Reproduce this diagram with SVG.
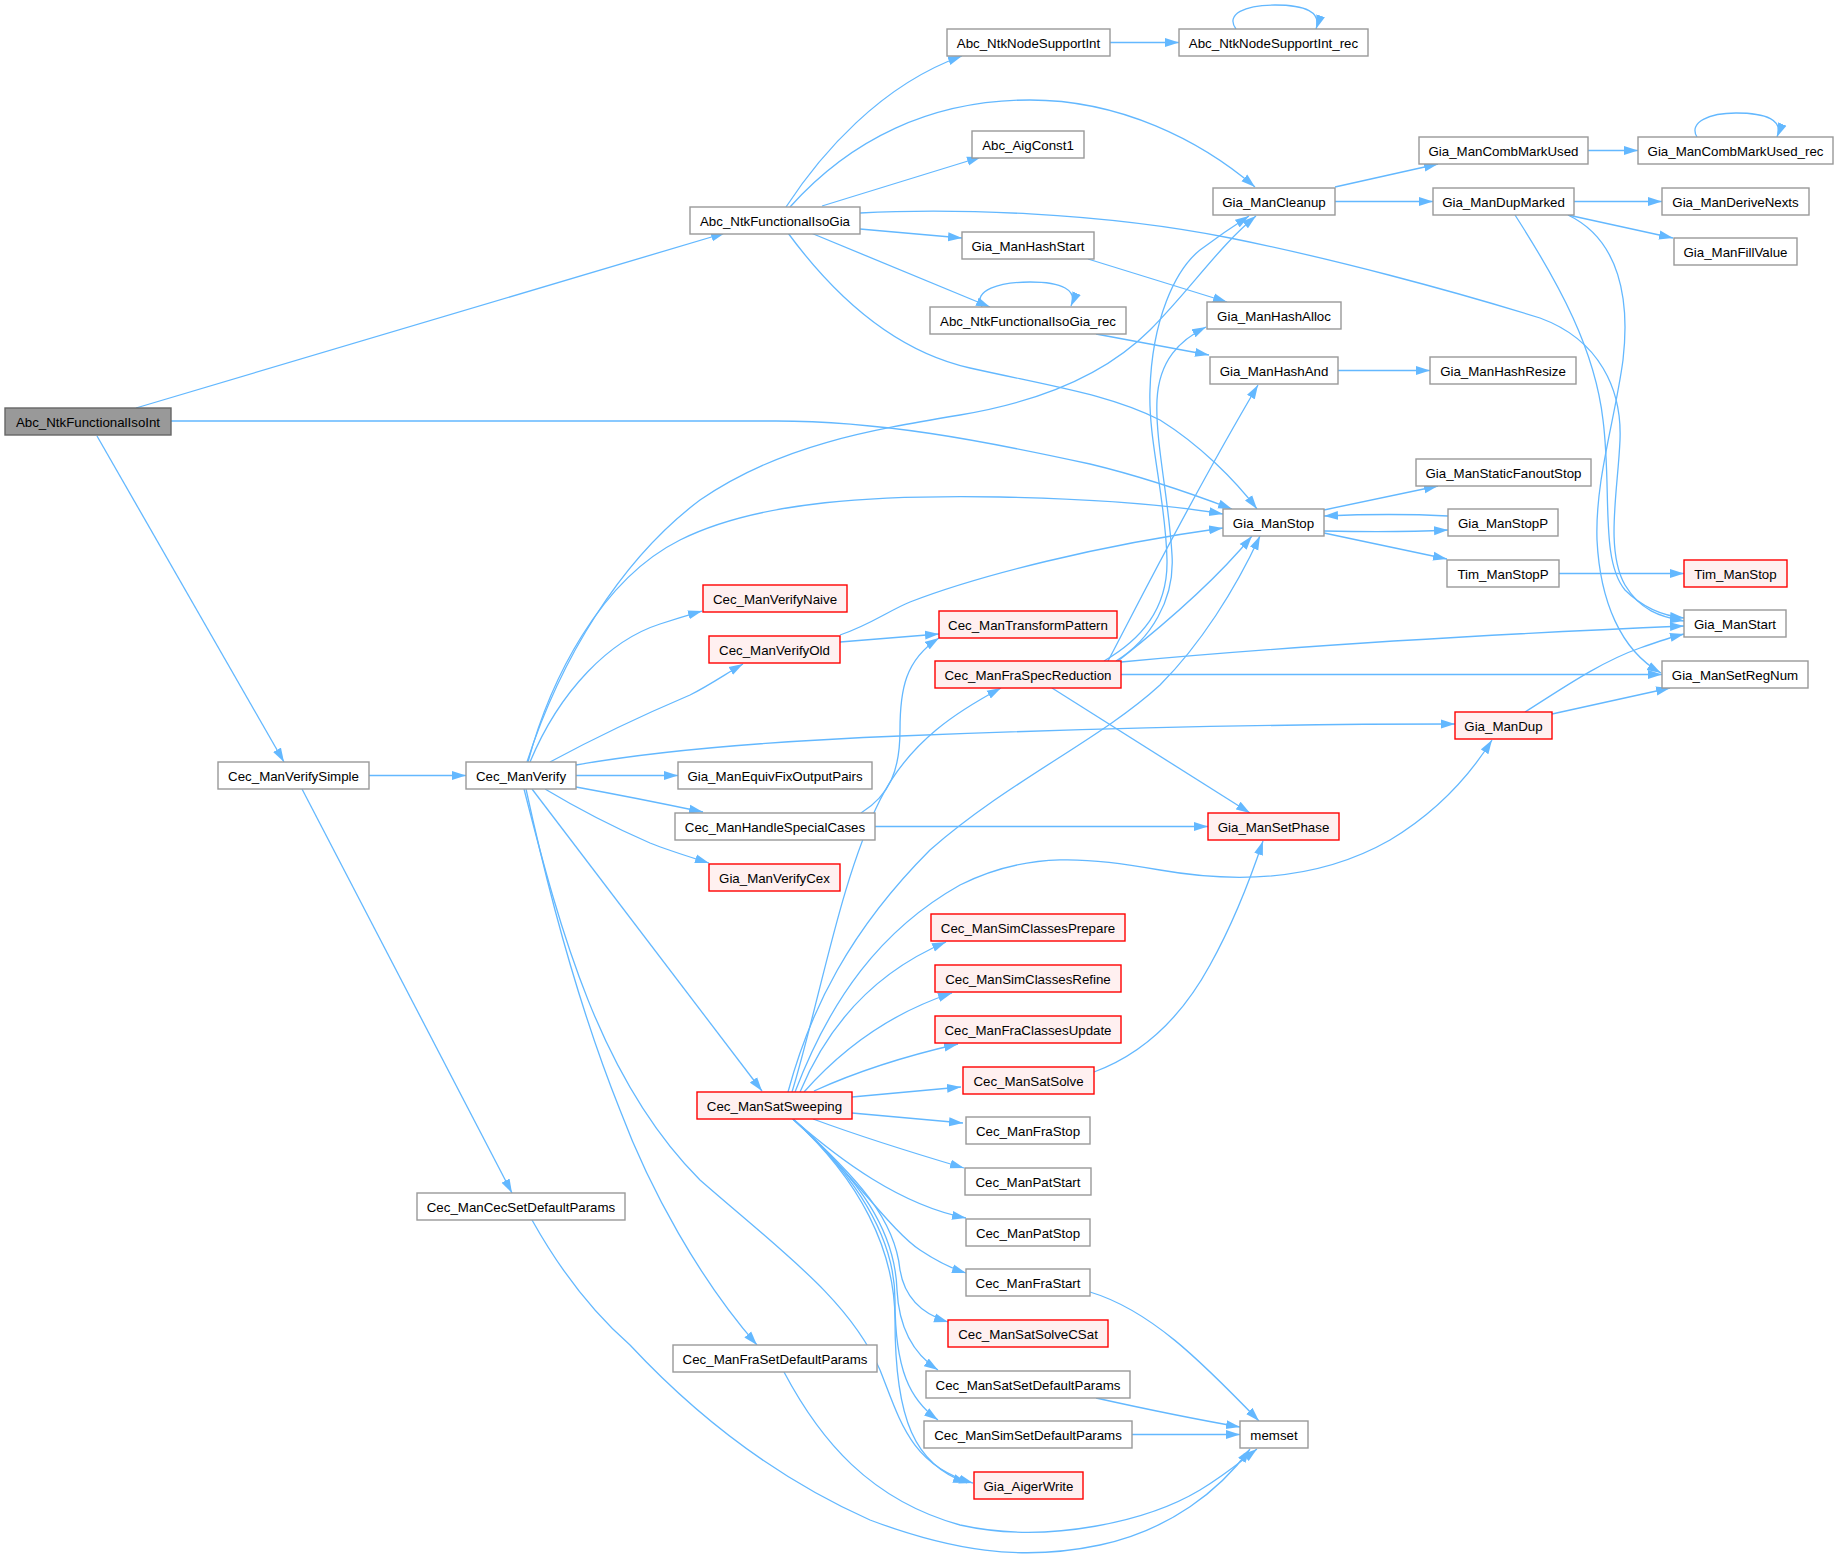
<svg xmlns="http://www.w3.org/2000/svg" width="1837" height="1564" viewBox="0 0 1837 1564">
<style>
.n rect{fill:#fff;stroke:#999;stroke-width:1.4}
.r rect{fill:#fff0f0;stroke:#ff0000;stroke-width:1.4}
.g rect{fill:#999;stroke:#666;stroke-width:1.4}
text{font-family:"Liberation Sans",Arial,Helvetica,sans-serif;font-size:13.3px;fill:#000;text-anchor:middle}
#edges path{fill:none;stroke:#63b8ff;stroke-width:1.3;marker-end:url(#ah)}
</style>
<defs>
<marker id="ah" viewBox="0 0 14 10" refX="14" refY="5" markerWidth="14" markerHeight="10" markerUnits="userSpaceOnUse" orient="auto">
<path d="M0,0.5 L14,5 L0,9.5 z" fill="#63b8ff"/>
</marker>
</defs>
<rect width="1837" height="1564" fill="#fff"/>
<g id="edges">
<path d="M136,408 L725,233"/>
<path d="M171,421 L776,421 C880,421 980,440 1090,464 C1140,476 1190,493 1232,509"/>
<path d="M97,436 L284,762"/>
<path d="M786,207 C820,155 880,85 962,56"/>
<path d="M790,207 C850,140 930,100 1030,100 C1120,100 1200,140 1255,187"/>
<path d="M822,206 L981,157"/>
<path d="M860,213 C950,208 1100,212 1230,238 C1330,258 1450,290 1540,318 C1600,340 1622,390 1620,440 C1618,490 1605,550 1625,585 C1640,610 1660,617 1684,621"/>
<path d="M860,229 L962,238"/>
<path d="M811,233 L990,307"/>
<path d="M788,233 C830,290 890,350 970,368 C1060,388 1110,395 1160,420 C1200,445 1235,480 1257,509"/>
<path d="M982,307 C972,290 1000,282 1030,282 C1062,282 1078,290 1071,306"/>
<path d="M1096,334 L1209,355"/>
<path d="M1088,259 L1227,302"/>
<path d="M1110,42.5 L1179,42.5"/>
<path d="M1236,29 C1225,14 1245,5 1275,5 C1305,5 1322,12 1316,29"/>
<path d="M1335,187 L1438,164"/>
<path d="M1335,201.5 L1433,201.5"/>
<path d="M1588,150.5 L1638,150.5"/>
<path d="M1697,137 C1688,122 1710,113 1736,113 C1766,113 1784,120 1777,137"/>
<path d="M1574,201.5 L1662,201.5"/>
<path d="M1568,215 L1673,238"/>
<path d="M1515,215 C1560,285 1595,350 1603,420 C1612,490 1600,560 1625,590 C1645,610 1665,616 1684,618"/>
<path d="M1568,215 C1620,240 1630,300 1623,360 C1615,420 1595,480 1597,540 C1600,600 1620,650 1661,673"/>
<path d="M1338,370.5 L1430,370.5"/>
<path d="M1324,510 L1438,486"/>
<path d="M1324,531 C1370,532 1410,532 1448,530"/>
<path d="M1448,516 C1410,514 1370,514 1324,516"/>
<path d="M1324,533 L1447,559"/>
<path d="M1559,573.5 L1684,573.5"/>
<path d="M1525,712 C1560,690 1600,662 1640,648 C1660,641 1672,637 1684,634"/>
<path d="M1552,714 L1670,688"/>
<path d="M1121,662 C1250,650 1450,636 1684,626"/>
<path d="M1121,674.5 L1662,674.5"/>
<path d="M1052,688 L1250,813"/>
<path d="M1104,661 C1140,640 1168,610 1167,560 C1166,500 1148,440 1150,390 C1152,320 1175,270 1200,250 C1220,235 1235,225 1249,216"/>
<path d="M1116,661 C1150,640 1175,600 1172,555 C1169,500 1155,440 1157,400 C1159,360 1180,340 1206,327"/>
<path d="M1108,661 C1140,600 1190,500 1258,385"/>
<path d="M1118,661 C1170,620 1220,575 1252,536"/>
<path d="M788,1092 C810,1010 850,930 930,850 C1010,780 1100,740 1160,685 C1200,645 1235,590 1260,536"/>
<path d="M792,1092 C820,1000 840,880 880,800 C910,740 960,710 1001,688"/>
<path d="M795,1092 C830,1000 880,930 960,885 C1030,850 1090,858 1160,870 C1240,884 1320,880 1390,840 C1440,810 1470,775 1492,740"/>
<path d="M800,1092 C830,1020 880,970 946,942"/>
<path d="M804,1092 C850,1040 900,1010 952,993"/>
<path d="M814,1091 C860,1070 910,1055 958,1044"/>
<path d="M852,1097 L961,1087"/>
<path d="M852,1113 L963,1123"/>
<path d="M813,1119 C870,1140 920,1155 964,1168"/>
<path d="M793,1119 C840,1160 900,1205 966,1218"/>
<path d="M793,1119 C850,1170 890,1230 920,1250 C935,1260 950,1268 966,1273"/>
<path d="M793,1119 C860,1180 895,1220 900,1270 C905,1300 925,1315 948,1322"/>
<path d="M793,1119 C860,1180 895,1230 897,1290 C899,1330 915,1355 938,1370"/>
<path d="M793,1119 C860,1180 895,1240 895,1300 C895,1370 910,1400 938,1420"/>
<path d="M793,1119 C860,1180 895,1250 895,1320 C895,1420 915,1465 967,1483"/>
<path d="M1094,1072 C1140,1055 1180,1020 1210,965 C1235,920 1250,880 1263,841"/>
<path d="M527,762 C560,660 620,560 700,500 C780,445 870,430 960,415 C1050,400 1110,370 1150,330 C1190,290 1220,245 1256,216"/>
<path d="M528,762 C550,680 600,580 680,540 C760,500 880,495 1000,497 C1100,499 1170,505 1223,514"/>
<path d="M530,762 C560,690 610,640 660,624 C675,619 688,615 702,611"/>
<path d="M550,762 C600,735 650,712 690,695 C710,685 727,673 743,664"/>
<path d="M576,765 C650,752 750,742 900,736 C1100,728 1300,724 1455,724"/>
<path d="M576,775.5 L678,775.5"/>
<path d="M576,787 C620,795 660,803 703,812"/>
<path d="M545,789 C580,810 620,830 650,843 C670,851 690,857 709,863"/>
<path d="M532,789 L762,1091"/>
<path d="M526,789 C550,900 580,1010 620,1110 C650,1190 700,1280 757,1345"/>
<path d="M524,789 C560,930 600,1080 700,1180 C780,1250 850,1300 880,1370 C900,1420 910,1465 973,1483"/>
<path d="M369,775.5 L466,775.5"/>
<path d="M302,789 L512,1193"/>
<path d="M532,1220 C560,1270 590,1310 630,1345 C700,1420 780,1480 870,1520 C950,1550 1020,1562 1100,1545 C1170,1530 1220,1490 1250,1449"/>
<path d="M784,1372 C820,1440 870,1500 960,1525 C1050,1545 1150,1520 1200,1490 C1225,1475 1240,1462 1257,1449"/>
<path d="M1090,1292 C1150,1310 1200,1360 1259,1421"/>
<path d="M1096,1398 C1150,1410 1200,1420 1240,1427"/>
<path d="M1132,1434.5 L1240,1434.5"/>
<path d="M840,642 L939,634"/>
<path d="M840,635 C870,625 890,610 910,602 C980,575 1100,545 1223,528"/>
<path d="M861,813 C890,795 900,770 900,730 C900,690 905,660 939,638"/>
<path d="M875,826.5 L1208,826.5"/>
</g>
<g id="n1" class="g"><rect x="5" y="408" width="166" height="27"/><text x="88" y="426.5">Abc_NtkFunctionalIsoInt</text></g>
<g id="n2" class="n"><rect x="690" y="207" width="170" height="27"/><text x="775" y="225.5">Abc_NtkFunctionalIsoGia</text></g>
<g id="n3" class="n"><rect x="947" y="29" width="163" height="27"/><text x="1028.5" y="47.5">Abc_NtkNodeSupportInt</text></g>
<g id="n4" class="n"><rect x="1179" y="29" width="189" height="27"/><text x="1273.5" y="47.5">Abc_NtkNodeSupportInt_rec</text></g>
<g id="n5" class="n"><rect x="972" y="131" width="112" height="27"/><text x="1028" y="149.5">Abc_AigConst1</text></g>
<g id="n6" class="n"><rect x="962" y="232" width="132" height="27"/><text x="1028" y="250.5">Gia_ManHashStart</text></g>
<g id="n7" class="n"><rect x="930" y="307" width="196" height="27"/><text x="1028" y="325.5">Abc_NtkFunctionalIsoGia_rec</text></g>
<g id="n8" class="n"><rect x="1213" y="188" width="122" height="27"/><text x="1274" y="206.5">Gia_ManCleanup</text></g>
<g id="n9" class="n"><rect x="1419" y="137" width="169" height="27"/><text x="1503.5" y="155.5">Gia_ManCombMarkUsed</text></g>
<g id="n10" class="n"><rect x="1638" y="137" width="195" height="27"/><text x="1735.5" y="155.5">Gia_ManCombMarkUsed_rec</text></g>
<g id="n11" class="n"><rect x="1433" y="188" width="141" height="27"/><text x="1503.5" y="206.5">Gia_ManDupMarked</text></g>
<g id="n12" class="n"><rect x="1662" y="188" width="147" height="27"/><text x="1735.5" y="206.5">Gia_ManDeriveNexts</text></g>
<g id="n13" class="n"><rect x="1674" y="238" width="123" height="27"/><text x="1735.5" y="256.5">Gia_ManFillValue</text></g>
<g id="n14" class="n"><rect x="1207" y="302" width="134" height="27"/><text x="1274" y="320.5">Gia_ManHashAlloc</text></g>
<g id="n15" class="n"><rect x="1210" y="357" width="128" height="27"/><text x="1274" y="375.5">Gia_ManHashAnd</text></g>
<g id="n16" class="n"><rect x="1430" y="357" width="146" height="27"/><text x="1503" y="375.5">Gia_ManHashResize</text></g>
<g id="n17" class="n"><rect x="1416" y="459" width="175" height="27"/><text x="1503.5" y="477.5">Gia_ManStaticFanoutStop</text></g>
<g id="n18" class="n"><rect x="1223" y="509" width="101" height="27"/><text x="1273.5" y="527.5">Gia_ManStop</text></g>
<g id="n19" class="n"><rect x="1448" y="509" width="110" height="27"/><text x="1503" y="527.5">Gia_ManStopP</text></g>
<g id="n20" class="n"><rect x="1447" y="560" width="112" height="27"/><text x="1503" y="578.5">Tim_ManStopP</text></g>
<g id="n21" class="r"><rect x="1684" y="560" width="103" height="27"/><text x="1735.5" y="578.5">Tim_ManStop</text></g>
<g id="n22" class="n"><rect x="1684" y="610" width="102" height="27"/><text x="1735" y="628.5">Gia_ManStart</text></g>
<g id="n23" class="n"><rect x="1662" y="661" width="146" height="27"/><text x="1735" y="679.5">Gia_ManSetRegNum</text></g>
<g id="n24" class="r"><rect x="1455" y="712" width="97" height="27"/><text x="1503.5" y="730.5">Gia_ManDup</text></g>
<g id="n25" class="r"><rect x="703" y="585" width="144" height="27"/><text x="775" y="603.5">Cec_ManVerifyNaive</text></g>
<g id="n26" class="r"><rect x="709" y="636" width="131" height="27"/><text x="774.5" y="654.5">Cec_ManVerifyOld</text></g>
<g id="n27" class="r"><rect x="939" y="611" width="178" height="27"/><text x="1028" y="629.5">Cec_ManTransformPattern</text></g>
<g id="n28" class="r"><rect x="935" y="661" width="186" height="27"/><text x="1028" y="679.5">Cec_ManFraSpecReduction</text></g>
<g id="n29" class="n"><rect x="678" y="762" width="194" height="27"/><text x="775" y="780.5">Gia_ManEquivFixOutputPairs</text></g>
<g id="n30" class="n"><rect x="675" y="813" width="200" height="27"/><text x="775" y="831.5">Cec_ManHandleSpecialCases</text></g>
<g id="n31" class="r"><rect x="1208" y="813" width="131" height="27"/><text x="1273.5" y="831.5">Gia_ManSetPhase</text></g>
<g id="n32" class="r"><rect x="709" y="864" width="131" height="27"/><text x="774.5" y="882.5">Gia_ManVerifyCex</text></g>
<g id="n33" class="r"><rect x="931" y="914" width="194" height="27"/><text x="1028" y="932.5">Cec_ManSimClassesPrepare</text></g>
<g id="n34" class="r"><rect x="935" y="965" width="186" height="27"/><text x="1028" y="983.5">Cec_ManSimClassesRefine</text></g>
<g id="n35" class="r"><rect x="935" y="1016" width="186" height="27"/><text x="1028" y="1034.5">Cec_ManFraClassesUpdate</text></g>
<g id="n36" class="n"><rect x="218" y="762" width="151" height="27"/><text x="293.5" y="780.5">Cec_ManVerifySimple</text></g>
<g id="n37" class="n"><rect x="466" y="762" width="110" height="27"/><text x="521" y="780.5">Cec_ManVerify</text></g>
<g id="n38" class="n"><rect x="417" y="1193" width="208" height="27"/><text x="521" y="1211.5">Cec_ManCecSetDefaultParams</text></g>
<g id="n39" class="r"><rect x="697" y="1092" width="155" height="27"/><text x="774.5" y="1110.5">Cec_ManSatSweeping</text></g>
<g id="n40" class="r"><rect x="963" y="1067" width="131" height="27"/><text x="1028.5" y="1085.5">Cec_ManSatSolve</text></g>
<g id="n41" class="n"><rect x="966" y="1117" width="124" height="27"/><text x="1028" y="1135.5">Cec_ManFraStop</text></g>
<g id="n42" class="n"><rect x="965" y="1168" width="126" height="27"/><text x="1028" y="1186.5">Cec_ManPatStart</text></g>
<g id="n43" class="n"><rect x="966" y="1219" width="124" height="27"/><text x="1028" y="1237.5">Cec_ManPatStop</text></g>
<g id="n44" class="n"><rect x="966" y="1269" width="124" height="27"/><text x="1028" y="1287.5">Cec_ManFraStart</text></g>
<g id="n45" class="r"><rect x="948" y="1320" width="160" height="27"/><text x="1028" y="1338.5">Cec_ManSatSolveCSat</text></g>
<g id="n46" class="n"><rect x="926" y="1371" width="204" height="27"/><text x="1028" y="1389.5">Cec_ManSatSetDefaultParams</text></g>
<g id="n47" class="n"><rect x="924" y="1421" width="208" height="27"/><text x="1028" y="1439.5">Cec_ManSimSetDefaultParams</text></g>
<g id="n48" class="r"><rect x="974" y="1472" width="109" height="27"/><text x="1028.5" y="1490.5">Gia_AigerWrite</text></g>
<g id="n49" class="n"><rect x="673" y="1345" width="204" height="27"/><text x="775" y="1363.5">Cec_ManFraSetDefaultParams</text></g>
<g id="n50" class="n"><rect x="1240" y="1421" width="68" height="27"/><text x="1274" y="1439.5">memset</text></g>
</svg>
